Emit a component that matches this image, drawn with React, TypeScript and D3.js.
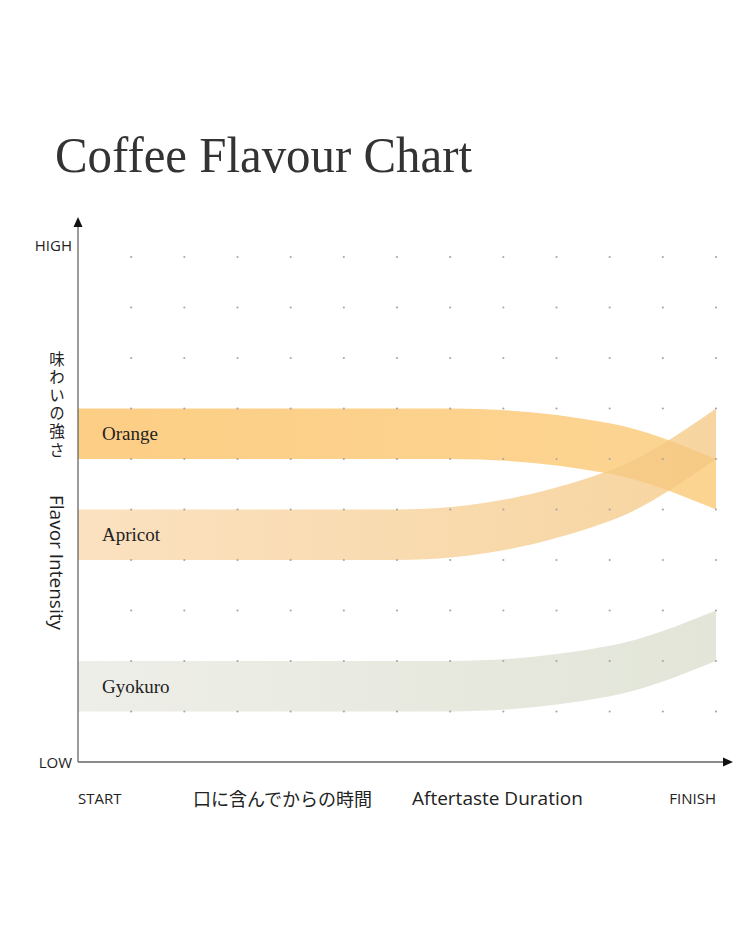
import { useMemo } from "react";
import * as d3 from "d3";

const WIDTH = 750;
const HEIGHT = 938;

const chartTitle = "Coffee Flavour Chart";

// band centre lines: [aftertaste time, flavour intensity]
const seriesNames = ["Orange", "Apricot", "Gyokuro"];
const orangeCentre: [number, number][] = [[0, 6.5], [7, 6.5], [10, 6.21], [12, 5.5]];
const apricotCentre: [number, number][] = [[0, 4.5], [6, 4.5], [10, 5.27], [12, 6.5]];
const gyokuroCentre: [number, number][] = [[0, 1.5], [7, 1.5], [10, 1.8], [12, 2.5]];
const bandThickness = 1;

// gradient colours (left -> right) and fill opacity per series
const orangeColors = ["#fcbe5c", "#fbc66e"];
const apricotColors = ["#fad7ab", "#f4c780"];
const gyokuroColors = ["#eeeee8", "#e2e5d8"];
const seriesOpacity = [0.75, 0.75, 1];

const gridColumns = [1, 2, 3, 4, 5, 6, 7, 8, 9, 10, 11, 12];
const gridRows = [1, 2, 3, 4, 5, 6, 7, 8, 9, 10];

const yEndLabels = ["LOW", "HIGH"];
const xEndLabels = ["START", "FINISH"];
const yTitleJa = "味わいの強さ";
const yTitleEn = "Flavor Intensity";
const xTitleJa = "口に含んでからの時間";
const xTitleEn = "Aftertaste Duration";

const SANS = "'Open Sans', 'Noto Sans', sans-serif";
const SERIF = "'Liberation Serif', 'DejaVu Serif', serif";
const CJK = "'Noto Sans CJK JP', sans-serif";

export default function App() {
  const margin = { left: 78, right: 34, top: 257, bottom: 176 };
  const x = d3.scaleLinear().domain([0, 12]).range([margin.left, WIDTH - margin.right]);
  const y = d3.scaleLinear().domain([0, 10]).range([HEIGHT - margin.bottom, margin.top]);

  const series = useMemo(
    () => [
      { name: seriesNames[0], points: orangeCentre, colors: orangeColors, opacity: seriesOpacity[0] },
      { name: seriesNames[1], points: apricotCentre, colors: apricotColors, opacity: seriesOpacity[1] },
      { name: seriesNames[2], points: gyokuroCentre, colors: gyokuroColors, opacity: seriesOpacity[2] },
    ],
    []
  );

  const area = d3
    .area<[number, number]>()
    .x((d) => x(d[0]))
    .y0((d) => y(d[1] - bandThickness / 2))
    .y1((d) => y(d[1] + bandThickness / 2))
    .curve(d3.curveMonotoneX);

  const x0 = x(0);
  const y0 = y(0);
  const xEnd = x(12);

  // draw order: gyokuro, orange, apricot on top
  const drawOrder = [2, 0, 1];

  return (
    <div style={{ position: "absolute", left: 0, top: 0 }}>
      <svg width={WIDTH} height={HEIGHT} style={{ display: "block", background: "#fff" }}>
        <defs>
          {series.map((s, i) => (
            <linearGradient
              key={s.name}
              id={`grad-${i}`}
              gradientUnits="userSpaceOnUse"
              x1={x0}
              x2={xEnd}
              y1={0}
              y2={0}
            >
              <stop offset="0%" stopColor={s.colors[0]} />
              <stop offset="100%" stopColor={s.colors[1]} />
            </linearGradient>
          ))}
        </defs>

        {/* Title */}
        <text
          x={55}
          y={172}
          fontFamily={SERIF}
          fontSize={50}
          fill="#333"
          textLength={417}
          lengthAdjust="spacingAndGlyphs"
        >
          {chartTitle}
        </text>

        {/* Bands */}
        {drawOrder.map((i) => {
          const s = series[i];
          return (
            <path
              key={s.name}
              d={area(s.points) || ""}
              fill={`url(#grad-${i})`}
              fillOpacity={s.opacity}
            />
          );
        })}

        {/* Grid dots */}
        {gridRows.map((r) =>
          gridColumns.map((c) => (
            <circle key={`${r}-${c}`} cx={x(c)} cy={y(r)} r={1.1} fill="#a8a8a8" />
          ))
        )}

        {/* Series labels */}
        {series.map((s) => (
          <text
            key={s.name}
            x={x0 + 24}
            y={y(s.points[0][1])}
            dominantBaseline="central"
            fontFamily={SERIF}
            fontSize={19}
            fill="#222"
          >
            {s.name}
          </text>
        ))}

        {/* Axes */}
        <line x1={x0} x2={x0} y1={y0} y2={224} stroke="#666" strokeWidth={1.3} />
        <line x1={x0} x2={726} y1={y0} y2={y0} stroke="#666" strokeWidth={1.3} />
        <path d={`M${x0},217 L${x0 - 4.5},227 L${x0 + 4.5},227 Z`} fill="#111" />
        <path d={`M733,${y0} L723,${y0 - 4.5} L723,${y0 + 4.5} Z`} fill="#111" />

        {/* Axis end labels */}
        <text x={72} y={y0} textAnchor="end" dominantBaseline="central" fontFamily={SANS} fontSize={15} fill="#222">
          {yEndLabels[0]}
        </text>
        <text x={72} y={y(10) - 12} textAnchor="end" dominantBaseline="central" fontFamily={SANS} fontSize={15} fill="#222">
          {yEndLabels[1]}
        </text>
        <text x={x0} y={y0 + 36} dominantBaseline="central" fontFamily={SANS} fontSize={15} fill="#222">
          {xEndLabels[0]}
        </text>
        <text x={xEnd} y={y0 + 36} textAnchor="end" dominantBaseline="central" fontFamily={SANS} fontSize={15} fill="#222">
          {xEndLabels[1]}
        </text>

        {/* X axis titles */}
        <text x={193} y={y0 + 36} dominantBaseline="central" fontFamily={CJK} fontSize={18} fill="#222">
          {xTitleJa}
        </text>
        <text x={412} y={y0 + 36} dominantBaseline="central" fontFamily={SANS} fontSize={19} fill="#222">
          {xTitleEn}
        </text>

        {/* Y axis titles */}
        <text
          x={57}
          y={351}
          fontFamily={CJK}
          fontSize={15.5}
          fill="#222"
          style={{ writingMode: "vertical-rl", textOrientation: "upright", letterSpacing: "2.7px" }}
        >
          {yTitleJa}
        </text>
        <text
          transform={`translate(57, 495) rotate(90)`}
          dominantBaseline="central"
          fontFamily={SANS}
          fontSize={19}
          fill="#222"
        >
          {yTitleEn}
        </text>
      </svg>
    </div>
  );
}
